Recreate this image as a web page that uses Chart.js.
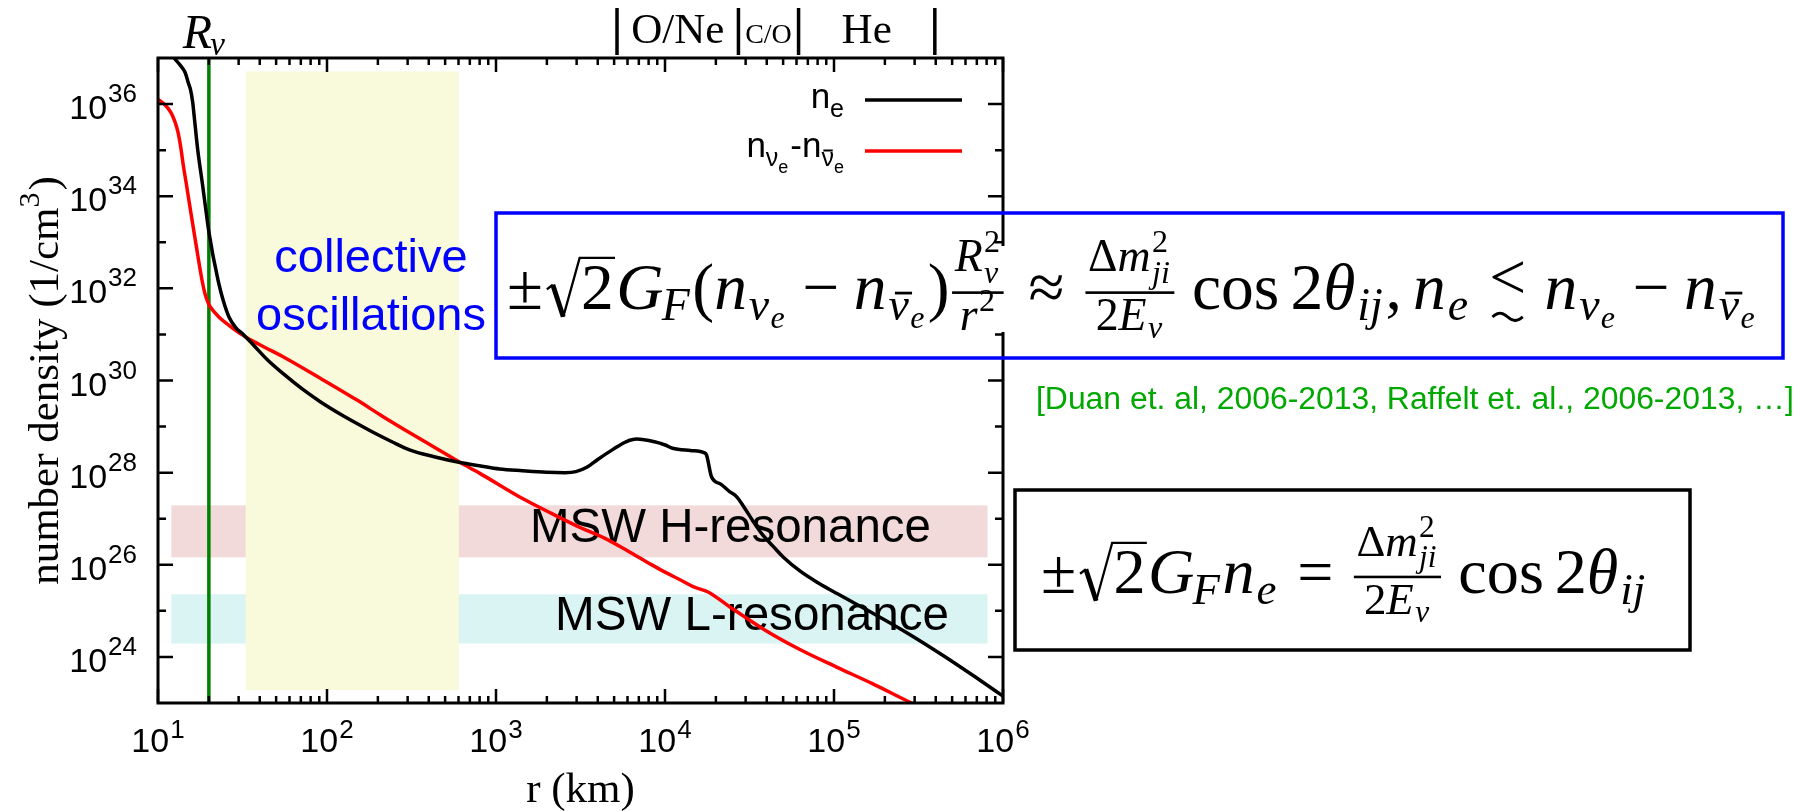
<!DOCTYPE html>
<html>
<head>
<meta charset="utf-8">
<script src="https://cdn.jsdelivr.net/npm/chart.js@4.4.1/dist/chart.umd.min.js"></script>
<style>
  html, body { margin: 0; padding: 0; background: #fff; overflow: hidden; }
  canvas { display: block; }
</style>
</head>
<body>
<canvas id="c" width="1806" height="811" style="width:1806px;height:811px"></canvas>
<script>
// ---- electron density n_e (1/cm^3) versus radius r (km) ----
const neR = [10, 11.22, 12.53, 13.49, 14.49, 15.14, 15.56, 16.03, 16.37, 17.18, 18.28, 19.41, 19.95,
  20.37, 21.13, 21.88, 22.91, 24.27, 26.30, 28.84, 31.99, 37.15, 44.36, 56.23, 72.28, 91.20, 117.5,
  151.4, 191.0, 245.5, 310.5, 436.5, 613.8, 798.0, 1050, 1432, 1995, 2564, 2972, 3467, 3981, 4898,
  5875, 6792, 8670, 10020, 11070, 14130, 17140, 17620, 18840, 21380, 24100, 26490, 29240, 33110,
  37240, 43650, 50000, 63680, 81280, 103500, 169800, 274200, 446700, 676100, 1000000];
const neVal = [3.98e37, 1.78e37, 9.77e36, 7.08e36, 4.79e36, 2.82e36, 2.09e36, 1.12e36, 5.50e35, 1.02e35,
  1.95e34, 3.72e33, 1.78e33, 1.15e33, 5.25e32, 2.82e32, 1.26e32, 5.62e31, 2.40e31, 1.41e31, 1.00e31,
  5.62e30, 2.82e30, 1.32e30, 6.31e29, 3.47e29, 1.95e29, 1.15e29, 7.24e28, 4.57e28, 3.09e28, 2.19e28,
  1.66e28, 1.41e28, 1.20e28, 1.10e28, 1.02e28, 1.00e28, 1.05e28, 1.32e28, 1.91e28, 3.16e28, 4.68e28,
  5.37e28, 4.68e28, 3.98e28, 3.39e28, 3.02e28, 2.69e28, 2.40e28, 8.13e27, 5.62e27, 3.89e27, 3.02e27,
  1.82e27, 8.91e26, 4.79e26, 2.51e26, 1.48e26, 7.08e25, 3.98e25, 2.40e25, 8.91e24, 3.24e24, 1.05e24,
  3.80e23, 1.41e23];

// ---- net electron-neutrino density n_nue - n_nuebar (1/cm^3) ----
const dnR = [10, 10.30, 11.09, 11.91, 12.59, 13.15, 13.65, 14.13, 14.66, 15.21, 15.78, 16.37, 16.98,
  17.62, 18.28, 18.92, 19.72, 20.37, 22.91, 26.30, 31.55, 39.81, 56.62, 91.20, 149.6, 213.8, 310.5,
  436.5, 613.8, 798.0, 1340, 2113, 3020, 4385, 6026, 8260, 10000, 12190, 14790, 17990, 24100, 39170,
  63680, 103500, 168700, 287700, 354800];
const dnVal = [1.26e36, 1.17e36, 9.33e35, 6.61e35, 4.17e35, 2.40e35, 1.12e35, 4.57e34, 2.00e34, 8.51e33,
  3.63e33, 1.58e33, 6.92e32, 3.02e32, 1.41e32, 7.94e31, 5.01e31, 3.98e31, 2.40e31, 1.58e31, 9.77e30,
  6.03e30, 3.09e30, 1.12e30, 3.80e29, 1.66e29, 7.24e28, 3.47e28, 1.66e28, 9.77e27, 3.16e27, 1.32e27,
  6.92e26, 3.80e26, 2.00e26, 1.02e26, 6.92e25, 4.79e25, 3.31e25, 2.57e25, 1.23e25, 3.80e24, 1.41e24,
  6.03e23, 2.63e23, 1.00e23, 7.08e22];

// ---- shaded regions ----
const resonanceR = [12.0, 8.1e5];       // radial extent of both MSW bands
const hResN = [1.45e26, 1.95e27];       // MSW H-resonance density window
const lResN = [1.95e24, 2.29e25];       // MSW L-resonance density window
const collectiveR = [33, 603];          // collective oscillation region
const collectiveN = [1.91e23, 5.13e36];
const nuSphereR = 20;                   // neutrinosphere radius R_nu (km)

// ---- composition shells above the plot ----
const shellEdgesR = [5200, 27200, 61700, 395000];
const shellNames = ['O/Ne', 'C/O', 'He'];

// ---- axes ----
const xRange = [10, 1e6];
const yRange = [1e23, 1e37];
const xTickExp = [1, 2, 3, 4, 5, 6];
const yTickExp = [24, 26, 28, 30, 32, 34, 36];

const SANS = '"Liberation Sans", Arial, Helvetica, sans-serif';
const SERIF = '"Liberation Serif", "Times New Roman", "DejaVu Serif", serif';

// ---------- small math typesetter for the boxed formulas ----------
function mathFont(it, s) { return (it ? 'italic ' : '') + s.toFixed(2) + 'px ' + SERIF; }
function mRun(ctx, list, s, x, y, draw) {
  let cx = x;
  for (const n of list) cx += mNode(ctx, n, s, cx, y, draw);
  return cx - x;
}
function mNode(ctx, n, s, x, y, draw) {
  if (n.r !== undefined || n.i !== undefined) {
    const it = n.i !== undefined, t = it ? n.i : n.r;
    ctx.font = mathFont(it, s);
    if (draw) ctx.fillText(t, x, y);
    return ctx.measureText(t).width + (it ? s * 0.03 : 0);
  }
  if (n.sp !== undefined) return n.sp * s;
  if (n.base) {
    const bw = mRun(ctx, n.base, s, x, y, draw);
    const ss = s * 0.7;
    let w = 0;
    if (n.sup) w = Math.max(w, mRun(ctx, n.sup, ss, x + bw, y - s * 0.42, draw));
    if (n.sub) {
      const k = (n.kern || 0) * s;
      w = Math.max(w, mRun(ctx, n.sub, ss, x + bw - k, y + s * (n.sup ? 0.26 : 0.17), draw) - k);
    }
    return bw + w + s * 0.02;
  }
  if (n.frac) {
    const fs = s * 0.7;
    const wn = mRun(ctx, n.frac[0], fs, 0, 0, false);
    const wd = mRun(ctx, n.frac[1], fs, 0, 0, false);
    const pad = s * 0.08;
    const w = Math.max(wn, wd) + 2 * pad;
    const ax = y - s * 0.25;
    if (draw) {
      mRun(ctx, n.frac[0], fs, x + (w - wn) / 2, ax - s * 0.33, true);
      mRun(ctx, n.frac[1], fs, x + (w - wd) / 2, ax + s * 0.1 + fs * 0.68, true);
      const t = Math.max(1.5, s * 0.04);
      ctx.fillRect(x + s * 0.04, ax - t / 2, w - s * 0.08, t);
    }
    return w + s * 0.06;
  }
  if (n.sqrt) {
    const cw = mRun(ctx, n.sqrt, s, 0, 0, false);
    const rw = s * 0.56, top = y - s * 0.78;
    if (draw) {
      ctx.save();
      ctx.lineCap = 'butt';
      ctx.lineJoin = 'miter';
      ctx.beginPath();
      ctx.lineWidth = s * 0.035;
      ctx.moveTo(x + s * 0.06, y - s * 0.30);
      ctx.lineTo(x + s * 0.15, y - s * 0.37);
      ctx.stroke();
      ctx.beginPath();
      ctx.lineWidth = s * 0.075;
      ctx.moveTo(x + s * 0.15, y - s * 0.37);
      ctx.lineTo(x + s * 0.31, y + s * 0.12);
      ctx.stroke();
      ctx.beginPath();
      ctx.lineWidth = s * 0.035;
      ctx.moveTo(x + s * 0.31, y + s * 0.12);
      ctx.lineTo(x + rw, top);
      ctx.lineTo(x + rw + cw + s * 0.04, top);
      ctx.stroke();
      ctx.restore();
      mRun(ctx, n.sqrt, s, x + rw + s * 0.02, y, true);
    }
    return rw + cw + s * 0.06;
  }
  if (n.bar) {
    const w = mRun(ctx, n.bar, s, x, y, draw);
    if (draw) ctx.fillRect(x + s * 0.14, y - s * 0.62, w - s * 0.1, Math.max(1, s * 0.06));
    return w;
  }
  if (n.lsim) {
    ctx.font = mathFont(false, s);
    const w = ctx.measureText('<').width;
    if (draw) {
      ctx.fillText('<', x, y - s * 0.16);
      ctx.save();
      ctx.lineWidth = s * 0.045;
      ctx.beginPath();
      const x0 = x + s * 0.05, x1 = x + w - s * 0.05, ty = y + s * 0.12, h = s * 0.055;
      for (let k = 0; k <= 24; k++) {
        const t = k / 24, px = x0 + (x1 - x0) * t, py = ty - h * Math.sin(2 * Math.PI * t);
        if (k === 0) ctx.moveTo(px, py); else ctx.lineTo(px, py);
      }
      ctx.stroke();
      ctx.restore();
    }
    return w;
  }
  return 0;
}
function mathAt(ctx, list, x0, x1, baseline, color) {
  const w100 = mRun(ctx, list, 100, 0, 0, false);
  const s = 100 * (x1 - x0) / w100;
  ctx.fillStyle = color;
  ctx.strokeStyle = color;
  ctx.textAlign = 'left';
  ctx.textBaseline = 'alphabetic';
  mRun(ctx, list, s, x0, baseline, true);
}

const nuE = [{ base: [{ i: 'ν' }], sub: [{ i: 'e' }] }];
const nuEbar = [{ base: [{ bar: [{ i: 'ν' }] }], sub: [{ i: 'e' }] }];
const dmFrac = { frac: [[{ r: 'Δ' }, { base: [{ i: 'm' }], sup: [{ r: '2' }], sub: [{ i: 'ji' }] }],
                        [{ r: '2' }, { base: [{ i: 'E' }], sub: [{ i: 'ν' }] }]] };
const collectiveEq = [
  { r: '±' }, { sqrt: [{ r: '2' }] }, { base: [{ i: 'G' }], sub: [{ i: 'F' }], kern: 0.06 }, { r: '(' },
  { base: [{ i: 'n' }], sub: nuE }, { sp: 0.22 }, { r: '−' }, { sp: 0.22 },
  { base: [{ i: 'n' }], sub: nuEbar }, { r: ')' },
  { frac: [[{ base: [{ i: 'R' }], sup: [{ r: '2' }], sub: [{ i: 'ν' }] }], [{ base: [{ i: 'r' }], sup: [{ r: '2' }] }]] },
  { sp: 0.28 }, { r: '≈' }, { sp: 0.28 }, dmFrac, { sp: 0.17 }, { r: 'cos' }, { sp: 0.17 },
  { r: '2' }, { base: [{ i: 'θ' }], sub: [{ i: 'ij' }] }, { r: ',' }, { sp: 0.17 },
  { base: [{ i: 'n' }], sub: [{ i: 'e' }] }, { sp: 0.28 }, { lsim: 1 }, { sp: 0.28 },
  { base: [{ i: 'n' }], sub: nuE }, { sp: 0.22 }, { r: '−' }, { sp: 0.22 }, { base: [{ i: 'n' }], sub: nuEbar }
];
const mswEq = [
  { r: '±' }, { sqrt: [{ r: '2' }] }, { base: [{ i: 'G' }], sub: [{ i: 'F' }], kern: 0.06 },
  { base: [{ i: 'n' }], sub: [{ i: 'e' }] }, { sp: 0.28 }, { r: '=' }, { sp: 0.28 }, dmFrac,
  { sp: 0.17 }, { r: 'cos' }, { sp: 0.17 }, { r: '2' }, { base: [{ i: 'θ' }], sub: [{ i: 'ij' }] }
];

// ---------- helpers for sans rich text (tick labels, legend) ----------
function richWidth(ctx, segs) {
  let w = 0;
  for (const g of segs) { ctx.font = g.size + 'px ' + (g.fam || SANS); w += ctx.measureText(g.t).width + (g.gap || 0); }
  return w;
}
function drawRich(ctx, segs, x, y) {
  let cx = x;
  for (const g of segs) {
    ctx.font = g.size + 'px ' + (g.fam || SANS);
    const w = ctx.measureText(g.t).width;
    ctx.fillText(g.t, cx, y + (g.dy || 0));
    if (g.bar) ctx.fillRect(cx + w * 0.15, y + (g.dy || 0) - g.size * 0.66, w * 0.75, 2);
    cx += w + (g.gap || 0);
  }
  return cx - x;
}
function powSegs(exp) {
  return [{ t: '10', size: 34, gap: 1 }, { t: String(exp), size: 26 }];
}
// text stretched to a given width
function fitText(ctx, text, fam, x, y, width) {
  ctx.font = '40px ' + fam;
  const s = 40 * width / ctx.measureText(text).width;
  ctx.font = s.toFixed(2) + 'px ' + fam;
  ctx.fillText(text, x, y);
}

const decor = {
  id: 'decor',
  beforeDatasetsDraw(chart) {
    const { ctx, chartArea: a, scales: { x, y } } = chart;
    ctx.save();
    const box = (rr, nn, col) => {
      const x0 = x.getPixelForValue(rr[0]), x1 = x.getPixelForValue(rr[1]);
      const y0 = y.getPixelForValue(nn[1]), y1 = y.getPixelForValue(nn[0]);
      ctx.fillStyle = col;
      ctx.fillRect(x0, y0, x1 - x0, y1 - y0);
    };
    box(resonanceR, hResN, '#f2dada');
    box(resonanceR, lResN, '#daf3f3');
    box(collectiveR, collectiveN, '#f9f9dc');

    // neutrinosphere
    const gx = x.getPixelForValue(nuSphereR);
    ctx.strokeStyle = '#008000';
    ctx.lineWidth = 3.5;
    ctx.beginPath(); ctx.moveTo(gx, a.top); ctx.lineTo(gx, a.bottom); ctx.stroke();

    ctx.textBaseline = 'alphabetic';
    ctx.fillStyle = '#0000ff';
    ctx.textAlign = 'center';
    ctx.font = '47px ' + SANS;
    ctx.fillText('collective', 371, 272);
    ctx.fillText('oscillations', 371, 330);

    ctx.fillStyle = '#000';
    ctx.textAlign = 'left';
    fitText(ctx, 'MSW H-resonance', SANS, 530, 542, 401);
    fitText(ctx, 'MSW L-resonance', SANS, 555, 630, 394);
    ctx.restore();
  },
  afterDatasetsDraw(chart) {
    const { ctx, chartArea: a, scales: { x, y } } = chart;
    ctx.save();
    ctx.strokeStyle = '#000';
    ctx.fillStyle = '#000';
    ctx.lineCap = 'butt';

    // frame
    ctx.lineWidth = 3;
    ctx.strokeRect(a.left, a.top, a.right - a.left, a.bottom - a.top);

    // x ticks (decades and 2..9 subdivisions) on bottom and top
    ctx.lineWidth = 2.5;
    ctx.beginPath();
    for (const e of xTickExp) {
      const px = x.getPixelForValue(Math.pow(10, e));
      ctx.moveTo(px, a.bottom); ctx.lineTo(px, a.bottom - 14);
      ctx.moveTo(px, a.top); ctx.lineTo(px, a.top + 14);
    }
    for (let e = xTickExp[0]; e < xTickExp[xTickExp.length - 1]; e++) {
      for (let m = 2; m <= 9; m++) {
        const px = x.getPixelForValue(m * Math.pow(10, e));
        ctx.moveTo(px, a.bottom); ctx.lineTo(px, a.bottom - 7);
        ctx.moveTo(px, a.top); ctx.lineTo(px, a.top + 7);
      }
    }
    // y ticks: labelled decades long, odd decades short, on both sides
    for (let e = 24; e <= 36; e++) {
      const py = y.getPixelForValue(Math.pow(10, e));
      const len = yTickExp.includes(e) ? 15 : 8;
      ctx.moveTo(a.left, py); ctx.lineTo(a.left + len, py);
      ctx.moveTo(a.right, py); ctx.lineTo(a.right - len, py);
    }
    ctx.stroke();

    // tick labels
    ctx.textAlign = 'left';
    ctx.textBaseline = 'alphabetic';
    for (const e of xTickExp) {
      const px = x.getPixelForValue(Math.pow(10, e));
      const segs = powSegs(e);
      segs[1].dy = -14;
      const w = richWidth(ctx, segs);
      drawRich(ctx, segs, px - w / 2, a.bottom + 49);
    }
    for (const e of yTickExp) {
      const py = y.getPixelForValue(Math.pow(10, e));
      const segs = powSegs(e);
      segs[1].dy = -17;
      const w = richWidth(ctx, segs);
      drawRich(ctx, segs, a.left - 21 - w, py + 15);
    }

    // axis titles
    ctx.font = '43px ' + SERIF;
    ctx.textAlign = 'center';
    ctx.fillText('r (km)', (a.left + a.right) / 2, 802);
    ctx.save();
    ctx.translate(58, (a.top + a.bottom) / 2);
    ctx.rotate(-Math.PI / 2);
    ctx.textAlign = 'left';
    const ySegs = [{ t: 'number density (1/cm', size: 43, fam: SERIF }, { t: '3', size: 30, fam: SERIF, dy: -19, gap: 2 },
                   { t: ')', size: 43, fam: SERIF }];
    drawRich(ctx, ySegs, -richWidth(ctx, ySegs) / 2, 0);
    ctx.restore();

    // R_nu marker
    const gx = x.getPixelForValue(nuSphereR);
    ctx.textAlign = 'left';
    ctx.font = 'italic 48px ' + SERIF;
    ctx.fillText('R', gx - 26, 48);
    const rw = ctx.measureText('R').width;
    ctx.font = 'italic 33px ' + SERIF;
    ctx.fillText('ν', gx - 26 + rw - 2, 55);

    // composition shells
    ctx.lineWidth = 3.5;
    ctx.beginPath();
    for (const r of shellEdgesR) {
      const px = x.getPixelForValue(r);
      ctx.moveTo(px, 8); ctx.lineTo(px, 55);
    }
    ctx.stroke();
    ctx.textAlign = 'center';
    shellNames.forEach((name, k) => {
      const cx = (x.getPixelForValue(shellEdgesR[k]) + x.getPixelForValue(shellEdgesR[k + 1])) / 2;
      ctx.font = (name === 'C/O' ? 28 : 43) + 'px ' + SERIF;
      ctx.fillText(name, cx, 43);
    });

    // legend
    const ds = chart.data.datasets;
    const legendRows = [
      { segs: [{ t: 'n', size: 35 }, { t: 'e', size: 25, dy: 9 }], y: 100, dy: 8 },
      { segs: [{ t: 'n', size: 35 }, { t: 'ν', size: 25, dy: 9 }, { t: 'e', size: 18, dy: 16, gap: 2 },
               { t: '-', size: 35 }, { t: 'n', size: 35 }, { t: 'ν', size: 25, dy: 9, bar: true },
               { t: 'e', size: 18, dy: 16 }], y: 151, dy: 6 }
    ];
    ctx.textAlign = 'left';
    legendRows.forEach((row, k) => {
      const w = richWidth(ctx, row.segs);
      ctx.fillStyle = '#000';
      drawRich(ctx, row.segs, 844 - w, row.y + row.dy);
      ctx.strokeStyle = ds[k].borderColor;
      ctx.lineWidth = 3.5;
      ctx.beginPath(); ctx.moveTo(865, row.y); ctx.lineTo(962, row.y); ctx.stroke();
    });

    // collective-oscillation condition
    ctx.fillStyle = '#fff';
    ctx.fillRect(500, 246, 1278, 86);
    ctx.strokeStyle = '#0000ff';
    ctx.lineWidth = 3.5;
    ctx.strokeRect(496, 213, 1287, 145);
    mathAt(ctx, collectiveEq, 507, 1758, 309, '#000');

    // reference line
    ctx.fillStyle = '#00a800';
    ctx.textAlign = 'left';
    fitText(ctx, '[Duan et. al, 2006-2013, Raffelt et. al., 2006-2013, …]', SANS, 1036, 409, 758);

    // MSW resonance condition
    ctx.strokeStyle = '#000';
    ctx.lineWidth = 3.5;
    ctx.strokeRect(1015, 490, 675, 160);
    mathAt(ctx, mswEq, 1041, 1648, 593, '#000');

    ctx.restore();
  }
};

const toPts = (rs, vs) => rs.map((r, k) => ({ x: r, y: vs[k] }));

new Chart(document.getElementById('c'), {
  type: 'scatter',
  data: {
    datasets: [
      { label: 'n_e', data: toPts(neR, neVal), borderColor: '#000000', borderWidth: 3.5,
        showLine: true, pointRadius: 0, cubicInterpolationMode: 'monotone' },
      { label: 'n_nue - n_nuebar', data: toPts(dnR, dnVal), borderColor: '#ff0000', borderWidth: 3.5,
        showLine: true, pointRadius: 0, cubicInterpolationMode: 'monotone' }
    ]
  },
  options: {
    responsive: false,
    animation: false,
    devicePixelRatio: 1,
    layout: { padding: { left: 158, right: 803, top: 58, bottom: 108 } },
    scales: {
      x: { type: 'logarithmic', min: xRange[0], max: xRange[1], display: false },
      y: { type: 'logarithmic', min: yRange[0], max: yRange[1], display: false }
    },
    plugins: { legend: { display: false }, tooltip: { enabled: false } }
  },
  plugins: [decor]
});
</script>
</body>
</html>
